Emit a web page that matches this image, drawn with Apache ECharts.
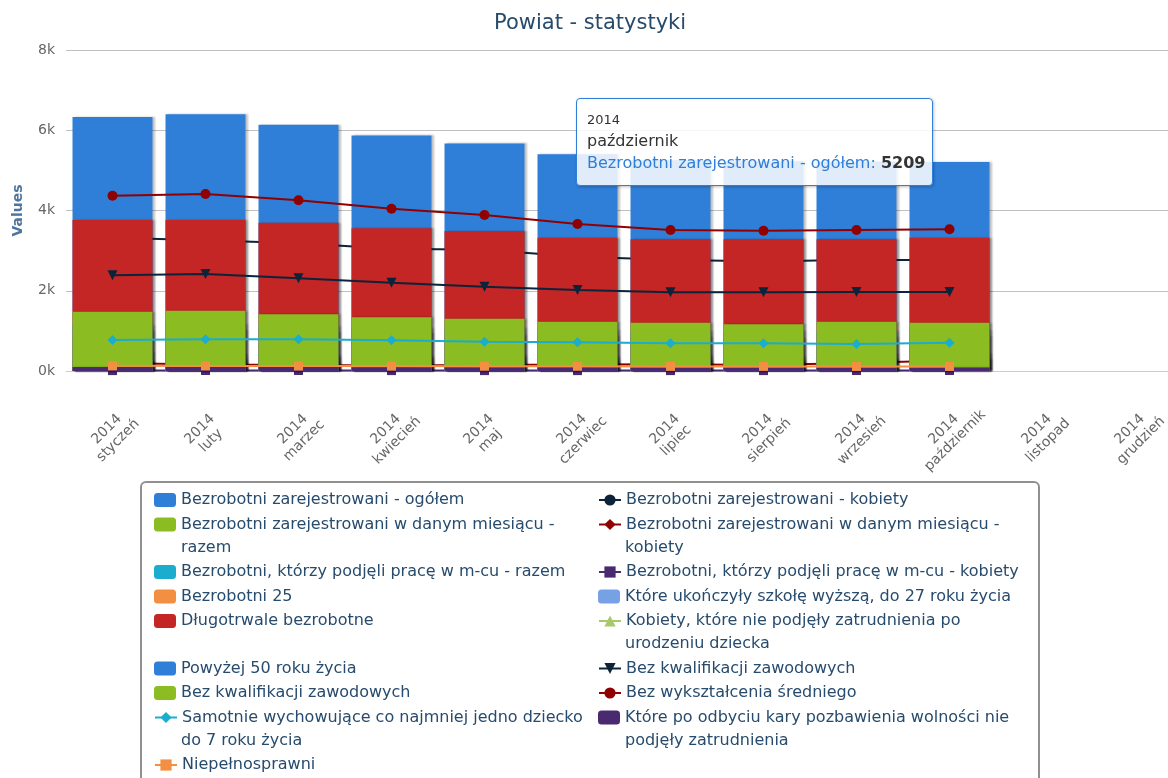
<!DOCTYPE html>
<html>
<head>
<meta charset="utf-8">
<title>Powiat - statystyki</title>
<script src="https://cdn.jsdelivr.net/npm/echarts@6/dist/echarts.min.js"></script>
<style>
  html, body { margin: 0; padding: 0; background: #fff; overflow: hidden; }
  /* wykres szerszy niż okno - prawa krawędź jest ucięta jak na oryginale */
  #chart { width: 1192px; height: 778px; }
</style>
</head>
<body>
<div id="chart"></div>
<script>
// dane
var year = '2014';
var months = ['styczeń', 'luty', 'marzec', 'kwiecień', 'maj', 'czerwiec', 'lipiec', 'sierpień', 'wrzesień', 'październik', 'listopad', 'grudzień'];

var ogolem = [6330, 6400, 6140, 5870, 5670, 5400, 5250, 5230, 5220, 5209];
var kobiety = [3320, 3260, 3185, 3045, 3020, 2850, 2770, 2730, 2770, 2760];
var miesiacRazem = [480, 420, 400, 380, 390, 370, 400, 380, 420, 450];
var miesiacKobiety = [200, 160, 150, 140, 150, 160, 170, 150, 200, 260];
var podjeliRazem = [260, 300, 350, 330, 320, 300, 290, 280, 300, 320];
var podjeliKobiety = [10, 12, 12, 10, 10, 10, 10, 10, 12, 12];
var bezrobotni25 = [1000, 1010, 980, 940, 900, 860, 840, 830, 850, 870];
var szkolaWyzsza = [260, 255, 250, 240, 230, 240, 250, 260, 270, 270];
var dlugotrwale = [3763, 3763, 3696, 3556, 3489, 3323, 3282, 3282, 3282, 3323];
var poUrodzeniu = [null, null, null, null, null, null, null, null, null, null];
var powyzej50 = [1150, 1160, 1120, 1080, 1060, 1020, 1000, 990, 1000, 1010];
var bezKwalifLinia = [2385, 2417, 2310, 2201, 2101, 2019, 1965, 1960, 1970, 1970];
var bezKwalifSlupki = [1478, 1503, 1413, 1338, 1304, 1229, 1204, 1164, 1229, 1204];
var bezWyksztalcenia = [4369, 4411, 4254, 4045, 3888, 3664, 3514, 3497, 3514, 3531];
var samotnie = [773, 790, 790, 765, 731, 715, 690, 690, 673, 706];
var poOdbyciu = [100, 100, 100, 95, 95, 95, 90, 90, 90, 90];
var niepelnosprawni = [128, 126, 124, 122, 120, 118, 115, 115, 113, 113];

var seriesNames = [
  'Bezrobotni zarejestrowani - ogółem',
  'Bezrobotni zarejestrowani - kobiety',
  'Bezrobotni zarejestrowani w danym miesiącu - razem',
  'Bezrobotni zarejestrowani w danym miesiącu - kobiety',
  'Bezrobotni, którzy podjęli pracę w m-cu - razem',
  'Bezrobotni, którzy podjęli pracę w m-cu - kobiety',
  'Bezrobotni 25',
  'Które ukończyły szkołę wyższą, do 27 roku życia',
  'Długotrwale bezrobotne',
  'Kobiety, które nie podjęły zatrudnienia po urodzeniu dziecka',
  'Powyżej 50 roku życia',
  'Bez kwalifikacji zawodowych ',
  'Bez kwalifikacji zawodowych',
  'Bez wykształcenia średniego',
  'Samotnie wychowujące co najmniej jedno dziecko do 7 roku życia',
  'Które po odbyciu kary pozbawienia wolności nie podjęły zatrudnienia',
  'Niepełnosprawni'
];
// tekst legendy z podziałem na linie jak w oryginale
var legendText = [
  'Bezrobotni zarejestrowani - ogółem',
  'Bezrobotni zarejestrowani - kobiety',
  'Bezrobotni zarejestrowani w danym miesiącu -\nrazem',
  'Bezrobotni zarejestrowani w danym miesiącu -\nkobiety',
  'Bezrobotni, którzy podjęli pracę w m-cu - razem',
  'Bezrobotni, którzy podjęli pracę w m-cu - kobiety',
  'Bezrobotni 25',
  'Które ukończyły szkołę wyższą, do 27 roku życia',
  'Długotrwale bezrobotne',
  'Kobiety, które nie podjęły zatrudnienia po\nurodzeniu dziecka',
  'Powyżej 50 roku życia',
  'Bez kwalifikacji zawodowych',
  'Bez kwalifikacji zawodowych',
  'Bez wykształcenia średniego',
  'Samotnie wychowujące co najmniej jedno dziecko\ndo 7 roku życia',
  'Które po odbyciu kary pozbawienia wolności nie\npodjęły zatrudnienia',
  'Niepełnosprawni'
];
var seriesData = [ogolem, kobiety, miesiacRazem, miesiacKobiety, podjeliRazem, podjeliKobiety,
  bezrobotni25, szkolaWyzsza, dlugotrwale, poUrodzeniu, powyzej50, bezKwalifLinia,
  bezKwalifSlupki, bezWyksztalcenia, samotnie, poOdbyciu, niepelnosprawni];
var seriesTypes = ['bar', 'line', 'bar', 'line', 'bar', 'line', 'bar', 'bar', 'bar', 'line',
  'bar', 'line', 'bar', 'line', 'line', 'bar', 'line'];

// wygląd
var palette = ['#2f7ed8', '#0d233a', '#8bbc21', '#910000', '#1aadce', '#492970', '#f28f43', '#77a1e5', '#c42525', '#a6c96a'];
var lineSymbols = ['circle', 'diamond', 'rect', 'triangle', 'triangle'];
var font = 'DejaVu Sans';
var legendFont = 16;
var legendLine = 23;

var lineCount = 0;
var series = seriesNames.map(function (name, i) {
  var color = palette[i % palette.length];
  if (seriesTypes[i] === 'bar') {
    return {
      name: name, type: 'bar', data: seriesData[i], z: 2 + i,
      barWidth: 80, barGap: '-100%',
      itemStyle: {
        color: color,
        shadowColor: 'rgba(0,0,0,0.25)', shadowBlur: 2, shadowOffsetX: 2, shadowOffsetY: 0
      }
    };
  }
  var k = lineCount++ % lineSymbols.length;
  return {
    name: name, type: 'line', data: seriesData[i], z: 2 + i,
    symbol: lineSymbols[k], symbolRotate: k === 4 ? 180 : 0,
    symbolSize: lineSymbols[k] === 'rect' ? 9 : 10,
    showAllSymbol: true,
    lineStyle: { color: color, width: 2 },
    itemStyle: { color: color }
  };
});

// legenda: osobna pozycja dla każdej serii, dwie kolumny, wiersze wyrównane
var rowY = [];
var y = 500;
for (var r = 0; r < Math.ceil(seriesNames.length / 2); r++) {
  rowY.push(y);
  var a = legendText[2 * r].split('\n').length;
  var b = legendText[2 * r + 1] ? legendText[2 * r + 1].split('\n').length : 1;
  y += 24.5 + legendLine * (Math.max(a, b) - 1);
}
var legends = [];
var extraLines = [];
seriesNames.forEach(function (name, i) {
  var left = i % 2 ? 598 : 154;
  var cy = rowY[Math.floor(i / 2)];
  var parts = legendText[i].split('\n');
  legends.push({
    data: [name],
    left: left,
    top: cy - legendLine / 2,
    padding: 0,
    itemWidth: 22,
    itemHeight: 14,
    selectedMode: false,
    formatter: function () { return parts[0]; },
    textStyle: { fontFamily: font, fontSize: legendFont, color: '#274b6d', lineHeight: legendLine }
  });
  // kolejne linie zawiniętego opisu
  parts.slice(1).forEach(function (t, j) {
    extraLines.push({
      type: 'text', z: 10,
      style: {
        text: t, x: left + 27, y: cy + legendLine * (j + 1),
        verticalAlign: 'middle', fill: '#274b6d',
        font: legendFont + 'px "' + font + '"'
      }
    });
  });
});

var chart = echarts.init(document.getElementById('chart'));
chart.setOption({
  animation: false,
  title: {
    text: 'Powiat - statystyki',
    left: 494, top: 13, padding: 0,
    textStyle: { fontFamily: font, fontSize: 21, fontWeight: 'normal', color: '#274b6d' }
  },
  tooltip: {
    trigger: 'item',
    triggerOn: 'none',
    alwaysShowContent: true,
    transitionDuration: 0,
    position: [576, 98],
    backgroundColor: 'rgba(255,255,255,0.85)',
    borderColor: '#2f7ed8',
    borderWidth: 1,
    padding: [11, 10, 11, 10],
    extraCssText: 'border-radius:4px;box-shadow:1px 1px 3px rgba(0,0,0,0.25);width:335px;',
    textStyle: { fontFamily: font, fontSize: 16, color: '#333' },
    formatter: function (p) {
      return '<div style="font-size:13px;line-height:20px">' + year + '</div>' +
        '<div style="line-height:22px">' + months[p.dataIndex] + '</div>' +
        '<div style="line-height:22px;white-space:nowrap"><span style="color:' + p.color + '">' + p.seriesName + ':</span> <b>' + p.value + '</b></div>';
    }
  },
  legend: legends,
  graphic: [{
    type: 'rect', z: 0,
    shape: { x: 141, y: 482, width: 898, height: 330, r: 5 },
    style: { fill: 'none', stroke: '#909090', lineWidth: 2 }
  }].concat(extraLines),
  grid: { left: 66, top: 50, width: 1116, height: 321 },
  xAxis: {
    type: 'category',
    data: months,
    axisLine: { lineStyle: { color: '#C0D0E0' } },
    axisTick: { length: 10, lineStyle: { color: '#C0D0E0' } },
    axisLabel: {
      interval: 0, rotate: 45, align: 'center', verticalAlign: 'middle', margin: 64,
      fontFamily: font, fontSize: 14, color: '#666', lineHeight: 16,
      formatter: function (v) { return year + '\n' + v; }
    }
  },
  yAxis: {
    type: 'value', min: 0, max: 8000, interval: 2000,
    name: 'Values', nameLocation: 'middle', nameGap: 41,
    nameTextStyle: { fontFamily: font, fontSize: 14, fontWeight: 'bold', color: '#4d759e' },
    splitLine: { lineStyle: { color: '#C0C0C0' } },
    axisLabel: {
      margin: 11, fontFamily: font, fontSize: 14, color: '#666',
      formatter: function (v) { return v / 1000 + 'k'; }
    }
  },
  series: series
});
chart.dispatchAction({ type: 'showTip', seriesIndex: 0, dataIndex: 9 });
</script>
</body>
</html>
